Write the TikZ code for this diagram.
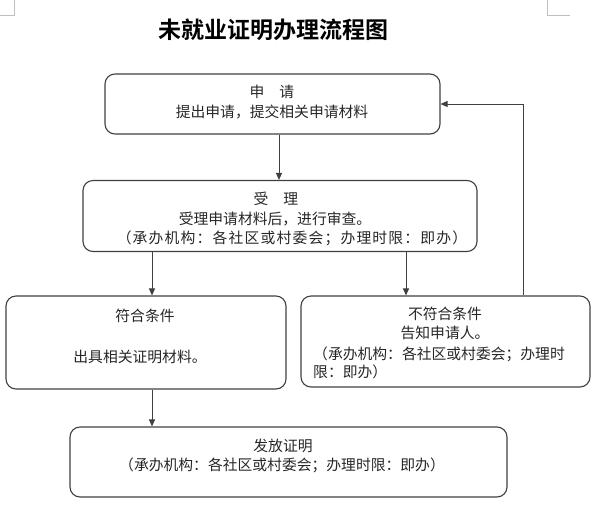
\documentclass[tikz,border=0pt]{standalone}
\usepackage{fontspec}
\setmainfont{Noto Sans CJK SC}
\newfontfamily\titlefont{Noto Sans CJK SC Bold}
\usetikzlibrary{arrows.meta}
\begin{document}
\begin{tikzpicture}[x=1pt,y=-1pt,
  box/.style={draw=black!75,line width=1.1pt,rounded corners=10pt,inner sep=0pt},
  txt/.style={inner sep=0pt,font=\fontsize{14.8pt}{16pt}\selectfont,text=black!85,anchor=center},
  arr/.style={draw=black!75,line width=1pt,-{Triangle[length=7pt,width=6pt]}},
  cornermark/.style={draw=black!25,line width=0.8pt}]
\useasboundingbox (0,0) rectangle (600,507);
% page corner marks
\draw[cornermark] (14,0) -- (14,15) -- (0,15);
\draw[cornermark] (547,0) -- (547,15) -- (570,15);
% title
\node[inner sep=0pt,font=\titlefont\fontsize{23pt}{25pt}\selectfont] (title) at (273,30) {未就业证明办理流程图};
% boxes
\node[box,minimum width=335pt,minimum height=60pt] (b1) at (272.5,104) {};
\node[box,minimum width=394pt,minimum height=71pt] (b2) at (280,216) {};
\node[box,minimum width=280pt,minimum height=93pt] (b3) at (146,342.5) {};
\node[box,minimum width=289pt,minimum height=91pt] (b4) at (445.5,341.5) {};
\node[box,minimum width=437pt,minimum height=70pt] (b5) at (288.5,462) {};
% texts
\node[txt] (t1a) at (272,92) {申\hspace{15pt}请};
\node[txt] (t1b) at (272,112) {提出申请，提交相关申请材料};
\node[txt] (t2a) at (276,199) {受\hspace{15pt}理};
\node[txt] (t2b) at (275,219) {受理申请材料后，进行审查。};
\node[txt] (t2c) at (292,238) {\addfontfeature{LetterSpace=8}（承办机构：各社区或村委会；办理时限：即办）};
\node[txt] (t3a) at (145,316) {符合条件};
\node[txt] (t3b) at (140,357) {出具相关证明材料。};
\node[txt] (t4a) at (445,314) {不符合条件};
\node[txt] (t4b) at (445,333) {告知申请人。};
\node[txt,anchor=west] (t4c) at (313,354) {（承办机构：各社区或村委会；办理时};
\node[txt,anchor=west] (t4d) at (313,372) {限：即办）};
\node[txt] (t5a) at (283,446) {发放证明};
\node[txt] (t5b) at (282,465) {（承办机构：各社区或村委会；办理时限：即办）};
% connector x positions
\coordinate (x1) at (279,0);
\coordinate (x2) at (152,0);
\coordinate (x3) at (406,0);
\coordinate (x4) at (523,0);
% arrows
\draw[arr] (b1.south -| x1) -- (b2.north -| x1);
\draw[arr] (b2.south -| x2) -- (b3.north -| x2);
\draw[arr] (b2.south -| x3) -- (b4.north -| x3);
\draw[arr] (b3.south -| x2) -- (b5.north -| x2);
\draw[arr] (b4.north -| x4) |- (b1.east);
\end{tikzpicture}
\end{document}
